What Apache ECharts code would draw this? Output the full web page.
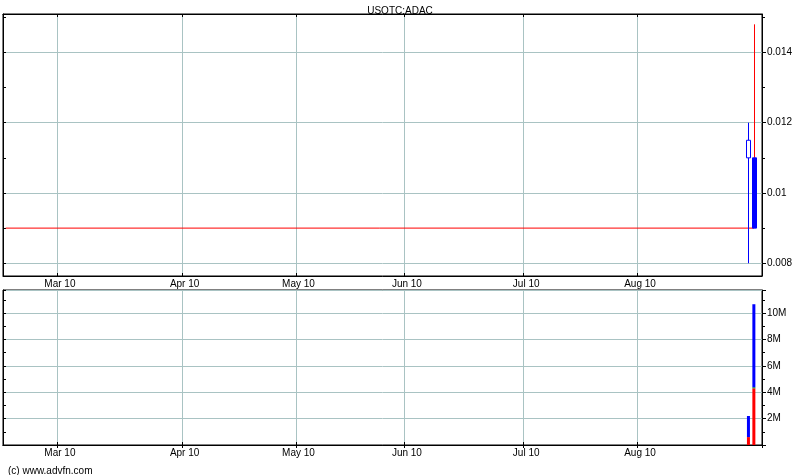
<!DOCTYPE html>
<html><head><meta charset="utf-8">
<script src="https://cdn.jsdelivr.net/npm/echarts@6/dist/echarts.min.js"></script>
<style>html,body{margin:0;padding:0;background:#fff}#c{width:800px;height:475px}</style>
</head><body><div id="c"></div>
<script>
// ---- data ----
const chartTitle = 'USOTC:ADAC';
const credit = '(c) www.advfn.com';
const startDate = '2010-02-12';
const endDate = '2010-09-01';
const holidays = ['2010-02-15', '2010-04-02', '2010-05-31', '2010-07-05'];
const monthNames = ['Jan','Feb','Mar','Apr','May','Jun','Jul','Aug','Sep','Oct','Nov','Dec'];
const labelledMonths = ['2010-03', '2010-04', '2010-05', '2010-06', '2010-07', '2010-08'];

const candleDates = ['2010-08-30', '2010-08-31'];
const candleOpen  = [0.011, 0.011];
const candleClose = [0.0115, 0.009];
const candleLow   = [0.008, 0.009];
const candleHigh  = [0.012, 0.0148];
const lastClose = 0.009;

const volDates = ['2010-08-30', '2010-08-31'];
const volRed   = [600000, 4300000];
const volGreen = [0, 80000];
const volBlue  = [1600000, 6300000];

const priceTicks = [0.008, 0.010, 0.012, 0.014];
const priceMinorTicks = [0.008, 0.009, 0.010, 0.011, 0.012, 0.013, 0.014, 0.015];
const priceMin = 0.007637, priceMax = 0.015094;
const volMax = 11760000;

// ---- styles ----
const wickColors = ['#0000ff', '#ff0000'];
const bodyColor = '#0000ff';
const gridColor = '#a9c3c3';
const font = 'Liberation Sans, Arial, sans-serif';

// ---- categories: trading days ----
function tradingDays(s, e, hol) {
  const out = [];
  let d = new Date(s + 'T00:00:00Z');
  const end = new Date(e + 'T00:00:00Z');
  while (d <= end) {
    const dow = d.getUTCDay();
    const iso = d.toISOString().slice(0, 10);
    if (dow !== 0 && dow !== 6 && hol.indexOf(iso) < 0) out.push(iso);
    d = new Date(d.getTime() + 86400000);
  }
  return out;
}
const categories = tradingDays(startDate, endDate, holidays);
function isMonthStart(i) {
  return i > 0 && categories[i].slice(0, 7) !== categories[i - 1].slice(0, 7)
    && labelledMonths.indexOf(categories[i].slice(0, 7)) >= 0;
}
function fmtMonth(v) {
  return monthNames[+v.slice(5, 7) - 1] + ' ' + v.slice(2, 4);
}

function xAxes(gi, withLabels) {
  return [
    {
      type: 'category', gridIndex: gi, data: categories, position: 'bottom', boundaryGap: true,
      axisLine: { show: true, lineStyle: { color: '#000', width: 1 } },
      axisTick: { show: true, inside: true, length: 3, interval: isMonthStart, lineStyle: { color: '#000' } },
      axisLabel: { show: withLabels, interval: isMonthStart, formatter: fmtMonth, margin: 3,
                   fontSize: 10, color: '#000', fontFamily: font },
      splitLine: { show: true, interval: isMonthStart, lineStyle: { color: gridColor, width: 1 } }
    },
    {
      type: 'category', gridIndex: gi, data: categories, position: 'top', boundaryGap: true,
      axisLine: { show: true, lineStyle: { color: '#000', width: 1 } },
      axisTick: { show: true, inside: true, length: 3, interval: isMonthStart, lineStyle: { color: '#000' } },
      axisLabel: { show: false },
      splitLine: { show: false }
    }
  ];
}

const chart = echarts.init(document.getElementById('c'), null, { renderer: 'canvas' });
chart.setOption({
  animation: false,
  backgroundColor: '#fff',
  title: [
    { text: chartTitle, left: 'center', top: 1, textStyle: { fontSize: 10, fontWeight: 'normal', color: '#000', fontFamily: font } },
    { text: credit, left: 3, top: 461, textStyle: { fontSize: 10, fontWeight: 'normal', color: '#000', fontFamily: font } }
  ],
  grid: [
    { left: 3, top: 14, width: 759, height: 262, show: true, borderColor: '#000', borderWidth: 1, containLabel: false },
    { left: 3, top: 290, width: 759, height: 155, show: true, borderColor: '#000', borderWidth: 1, containLabel: false }
  ],
  xAxis: [].concat(xAxes(0, true), xAxes(1, true)),
  yAxis: [
    { type: 'value', gridIndex: 0, position: 'right', min: priceMin, max: priceMax,
      axisLine: { show: true, lineStyle: { color: '#000' } },
      axisTick: { show: true, length: 4, customValues: priceTicks, lineStyle: { color: '#000' } },
      axisLabel: { customValues: priceTicks, margin: 5, fontSize: 10, color: '#000', fontFamily: font,
                   formatter: v => String(+v.toFixed(4)) },
      splitLine: { show: true, lineStyle: { color: gridColor } } },
    { type: 'value', gridIndex: 0, position: 'right', min: priceMin, max: priceMax,
      axisLine: { show: false },
      axisTick: { show: true, length: 3, customValues: priceMinorTicks, lineStyle: { color: '#000' } },
      axisLabel: { show: false }, splitLine: { show: false } },
    { type: 'value', gridIndex: 0, position: 'left', min: priceMin, max: priceMax,
      axisLine: { show: true, lineStyle: { color: '#000' } },
      axisTick: { show: true, inside: true, length: 3, customValues: priceMinorTicks, lineStyle: { color: '#000' } },
      axisLabel: { show: false }, splitLine: { show: false } },
    { type: 'value', gridIndex: 1, position: 'right', min: 0, max: volMax, interval: 2000000,
      axisLine: { show: true, lineStyle: { color: '#000' } },
      axisTick: { show: true, length: 4, lineStyle: { color: '#000' } },
      axisLabel: { margin: 5, fontSize: 10, color: '#000', fontFamily: font,
                   formatter: v => (v === 0 || Math.abs(v / 2e6 - Math.round(v / 2e6)) > 1e-9) ? '' : (v / 1e6) + 'M' },
      splitLine: { show: true, lineStyle: { color: gridColor } } },
    { type: 'value', gridIndex: 1, position: 'right', min: 0, max: volMax, interval: 1000000,
      axisLine: { show: false },
      axisTick: { show: true, length: 3, lineStyle: { color: '#000' } },
      axisLabel: { show: false }, splitLine: { show: false } },
    { type: 'value', gridIndex: 1, position: 'left', min: 0, max: volMax, interval: 1000000,
      axisLine: { show: true, lineStyle: { color: '#000' } },
      axisTick: { show: true, inside: true, length: 3, lineStyle: { color: '#000' } },
      axisLabel: { show: false }, splitLine: { show: false } }
  ],
  series: [
    { type: 'line', xAxisIndex: 0, yAxisIndex: 0, z: 1, symbol: 'none', silent: true,
      lineStyle: { color: '#ff0000', width: 1 },
      data: [[categories[0], lastClose], [candleDates[candleDates.length - 1], lastClose]] },
    { type: 'custom', xAxisIndex: 0, yAxisIndex: 0, z: 5,
      encode: { x: 0, y: [1, 2, 3, 4] },
      data: candleDates.map((d, i) => [d, candleOpen[i], candleClose[i], candleLow[i], candleHigh[i]]),
      renderItem: function (params, api) {
        const i = params.dataIndex;
        const xi = api.value(0);
        const o = api.value(1), c = api.value(2), lo = api.value(3), hi = api.value(4);
        const pO = api.coord([xi, o]), pC = api.coord([xi, c]);
        const pL = api.coord([xi, lo]), pH = api.coord([xi, hi]);
        const x = Math.round(pO[0]) + 0.5;
        const w = 4;
        const top = Math.min(pO[1], pC[1]), bot = Math.max(pO[1], pC[1]);
        const up = c >= o;
        const wc = wickColors[i];
        return {
          type: 'group',
          children: [
            { type: 'line', shape: { x1: x, y1: pH[1], x2: x, y2: top }, style: { stroke: wc, lineWidth: 1 } },
            { type: 'line', shape: { x1: x, y1: bot, x2: x, y2: pL[1] }, style: { stroke: wc, lineWidth: 1 } },
            { type: 'rect', shape: { x: x - w / 2, y: top, width: w, height: Math.max(1, bot - top) },
              style: up ? { fill: '#fff', stroke: bodyColor, lineWidth: 1 } : { fill: bodyColor, stroke: bodyColor, lineWidth: 1 } }
          ]
        };
      } },
    { type: 'bar', xAxisIndex: 2, yAxisIndex: 3, stack: 'vol', barWidth: 3, itemStyle: { color: '#ff0000' },
      data: volDates.map((d, i) => [d, volRed[i]]) },
    { type: 'bar', xAxisIndex: 2, yAxisIndex: 3, stack: 'vol', barWidth: 3, itemStyle: { color: '#00a000' },
      data: volDates.map((d, i) => [d, volGreen[i]]) },
    { type: 'bar', xAxisIndex: 2, yAxisIndex: 3, stack: 'vol', barWidth: 3, itemStyle: { color: '#0000ff' },
      data: volDates.map((d, i) => [d, volBlue[i]]) }
  ]
});
</script>
</body></html>
